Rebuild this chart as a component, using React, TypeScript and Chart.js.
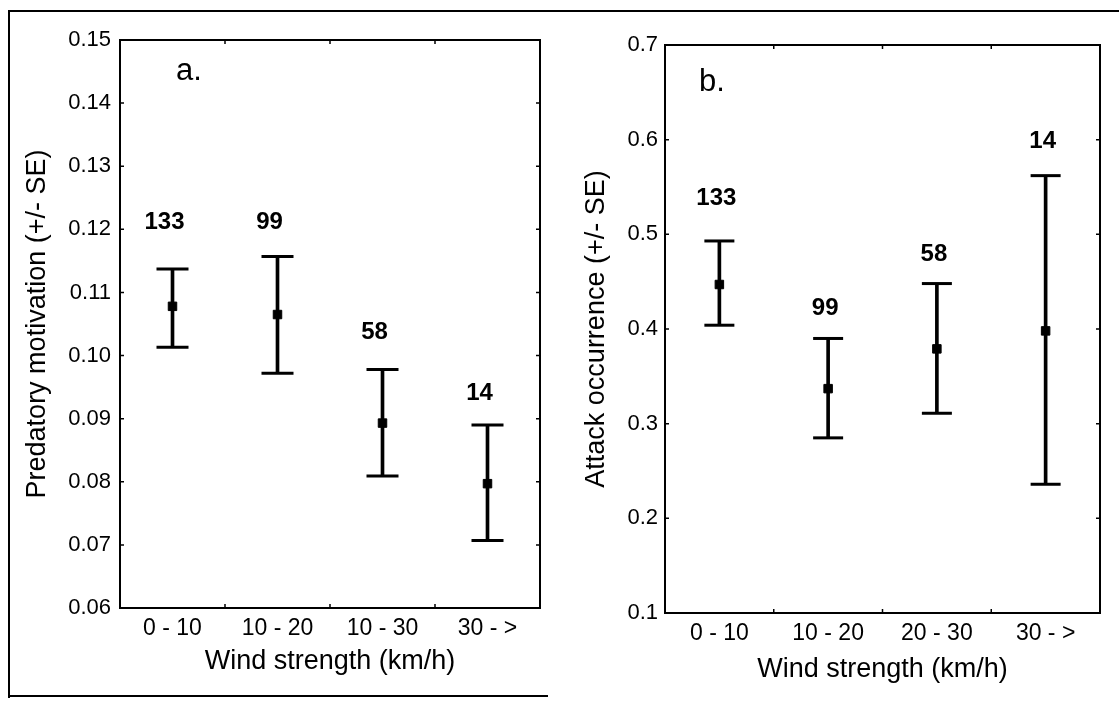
import React, { useEffect, useRef } from "react";
import { Chart, registerables } from "chart.js";

Chart.register(...registerables);

// ---- Data ----
const categoriesA = ["0 - 10", "10 - 20", "10 - 30", "30 - >"];
const meanA = [0.1078, 0.1065, 0.0893, 0.0797];
const upperA = [0.1137, 0.1157, 0.0978, 0.089];
const lowerA = [0.1013, 0.0972, 0.0809, 0.0707];
const countsA = ["133", "99", "58", "14"];
const countLevelA = [0.1211, 0.1211, 0.1037, 0.094];

const categoriesB = ["0 - 10", "10 - 20", "20 - 30", "30 - >"];
const meanB = [0.447, 0.337, 0.379, 0.398];
const upperB = [0.493, 0.39, 0.448, 0.562];
const lowerB = [0.404, 0.285, 0.311, 0.236];
const countsB = ["133", "99", "58", "14"];
const countLevelB = [0.538, 0.422, 0.479, 0.598];

const FONT = "'Liberation Sans', Arial, Helvetica, sans-serif";

const framePlugin = {
  id: "frame",
  afterDraw(chart: any) {
    const { ctx, chartArea } = chart;
    const { left, right, top, bottom } = chartArea;
    const xs = chart.scales.x;
    const ys = chart.scales.y;
    ctx.save();
    ctx.strokeStyle = "#000";
    ctx.lineWidth = 2;
    ctx.strokeRect(left, top, right - left, bottom - top);
    ctx.lineWidth = 1.5;
    ctx.beginPath();
    ys.ticks.forEach((t: any) => {
      const y = ys.getPixelForValue(t.value);
      ctx.moveTo(left, y);
      ctx.lineTo(left + 4, y);
      ctx.moveTo(right, y);
      ctx.lineTo(right - 4, y);
    });
    const n = chart.data.labels.length;
    for (let i = 0; i < n - 1; i++) {
      const x = (xs.getPixelForValue(i) + xs.getPixelForValue(i + 1)) / 2;
      ctx.moveTo(x, top);
      ctx.lineTo(x, top + 4);
      ctx.moveTo(x, bottom);
      ctx.lineTo(x, bottom - 4);
    }
    ctx.stroke();
    ctx.restore();
  },
};

const countPlugin = {
  id: "counts",
  afterDatasetsDraw(chart: any, _args: any, opts: any) {
    const { ctx, chartArea } = chart;
    const xs = chart.scales.x;
    const ys = chart.scales.y;
    ctx.save();
    ctx.fillStyle = "#000";
    ctx.textAlign = "center";
    ctx.textBaseline = "middle";
    ctx.font = `bold 24px ${FONT}`;
    opts.texts.forEach((t: string, i: number) => {
      ctx.fillText(t, xs.getPixelForValue(i) + opts.dx, ys.getPixelForValue(opts.levels[i]));
    });
    ctx.font = `31px ${FONT}`;
    ctx.fillText(opts.letter, chartArea.left + opts.letterDx, chartArea.top + opts.letterDy);
    ctx.restore();
  },
};

type PanelProps = {
  categories: string[];
  mean: number[];
  upper: number[];
  lower: number[];
  counts: string[];
  countLevels: number[];
  letter: string;
  yTitle: string;
  min: number;
  max: number;
  step: number;
  decimals: number;
  width: number;
  yWidth: number;
  xHeight: number;
  padTop: number;
  padRight: number;
  yTitlePad: number;
  xTitlePad: number;
  yTickPad: number;
  xTickPad: number;
  capRadius: number;
  dx: number;
  letterDx: number;
  letterDy: number;
};

function Panel(p: PanelProps) {
  const ref = useRef<HTMLCanvasElement>(null);
  useEffect(() => {
    const chart = new Chart(ref.current as HTMLCanvasElement, {
      type: "bar",
      data: {
        labels: p.categories,
        datasets: [
          {
            type: "bar",
            data: p.lower.map((l, i) => [l, p.upper[i]]) as any,
            backgroundColor: "#000",
            borderWidth: 0,
            barThickness: 3,
            order: 3,
          },
          {
            type: "line",
            data: p.upper,
            showLine: false,
            pointStyle: "line",
            pointRadius: p.capRadius,
            pointBorderWidth: 3,
            pointBorderColor: "#000",
            borderColor: "#000",
            order: 2,
          },
          {
            type: "line",
            data: p.lower,
            showLine: false,
            pointStyle: "line",
            pointRadius: p.capRadius,
            pointBorderWidth: 3,
            pointBorderColor: "#000",
            borderColor: "#000",
            order: 2,
          },
          {
            type: "line",
            data: p.mean,
            showLine: false,
            pointStyle: "rect",
            pointRadius: 6,
            pointBackgroundColor: "#000",
            pointBorderColor: "#000",
            pointBorderWidth: 1,
            order: 1,
          },
        ] as any,
      },
      options: {
        animation: false,
        responsive: false,
        events: [],
        layout: { padding: { top: p.padTop, right: p.padRight, left: 0, bottom: 0 } },
        plugins: {
          legend: { display: false },
          tooltip: { enabled: false },
          counts: {
            texts: p.counts,
            levels: p.countLevels,
            dx: p.dx,
            letter: p.letter,
            letterDx: p.letterDx,
            letterDy: p.letterDy,
          },
        } as any,
        scales: {
          x: {
            afterFit: (s: any) => {
              s.height = p.xHeight;
            },
            grid: { display: true, drawOnChartArea: false, drawTicks: false },
            border: { display: true, color: "#000", width: 2 },
            ticks: { color: "#000", font: { family: FONT, size: 23 }, padding: p.xTickPad },
            title: {
              display: true,
              text: "Wind strength (km/h)",
              color: "#000",
              font: { family: FONT, size: 27 },
              padding: { top: 0, bottom: p.xTitlePad },
            },
          },
          y: {
            min: p.min,
            max: p.max,
            afterFit: (s: any) => {
              s.width = p.yWidth;
            },
            grid: { display: true, drawOnChartArea: false, drawTicks: false },
            border: { display: true, color: "#000", width: 2 },
            ticks: {
              stepSize: p.step,
              color: "#000",
              font: { family: FONT, size: 22 },
              padding: p.yTickPad,
              callback: (v: any) => Number(v).toFixed(p.decimals),
            },
            title: {
              display: true,
              text: p.yTitle,
              color: "#000",
              font: { family: FONT, size: 27 },
              padding: { top: p.yTitlePad, bottom: 0 },
            },
          },
        },
      } as any,
      plugins: [framePlugin, countPlugin],
    });
    return () => chart.destroy();
  }, []);
  return <canvas ref={ref} width={p.width} height={702} style={{ width: p.width, height: 702, display: "block" }} />;
}

export default function App() {
  return (
    <div style={{ position: "fixed", left: 0, top: 0, width: 1119, height: 702, background: "#fff", overflow: "hidden" }}>
      <div style={{ position: "absolute", left: 8, top: 10, width: 1200, height: 686, borderLeft: "2px solid #000", borderTop: "2px solid #000" }} />
      <div style={{ position: "absolute", left: 8, top: 695, width: 540, height: 0, borderTop: "2px solid #000" }} />
      <div style={{ position: "absolute", left: 0, top: 0 }}>
        <Panel
          categories={categoriesA}
          mean={meanA}
          upper={upperA}
          lower={lowerA}
          counts={countsA}
          countLevels={countLevelA}
          letter="a."
          yTitle="Predatory motivation (+/- SE)"
          min={0.06}
          max={0.15}
          step={0.01}
          decimals={2}
          width={560}
          yWidth={120}
          xHeight={94}
          padTop={40}
          padRight={20}
          yTitlePad={21}
          xTitlePad={24}
          yTickPad={9}
          xTickPad={7}
          capRadius={16}
          dx={-8}
          letterDx={69}
          letterDy={31}
        />
      </div>
      <div style={{ position: "absolute", left: 560, top: 0 }}>
        <Panel
          categories={categoriesB}
          mean={meanB}
          upper={upperB}
          lower={lowerB}
          counts={countsB}
          countLevels={countLevelB}
          letter="b."
          yTitle="Attack occurrence (+/- SE)"
          min={0.1}
          max={0.7}
          step={0.1}
          decimals={1}
          width={559}
          yWidth={105}
          xHeight={89}
          padTop={45}
          padRight={19}
          yTitlePad={20}
          xTitlePad={16}
          yTickPad={7}
          xTickPad={7}
          capRadius={15}
          dx={-3}
          letterDx={47}
          letterDy={37}
        />
      </div>
    </div>
  );
}
